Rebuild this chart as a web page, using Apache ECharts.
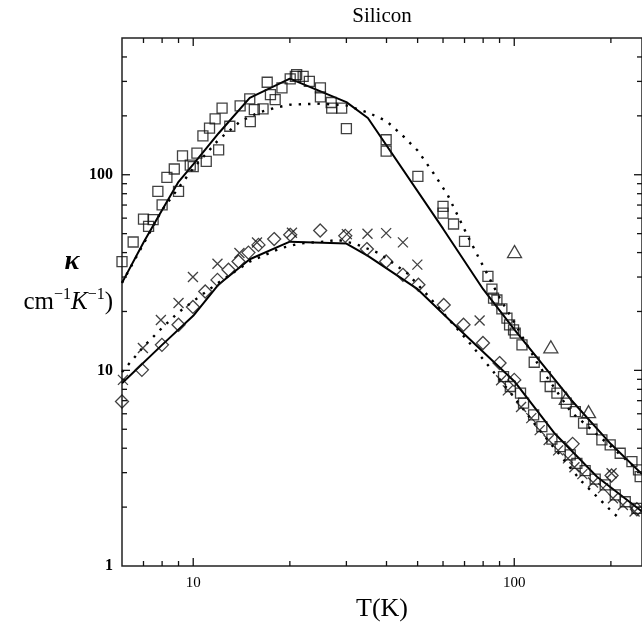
<!DOCTYPE html>
<html>
<head>
<meta charset="utf-8">
<title>Silicon</title>
<script src="https://cdn.jsdelivr.net/npm/echarts@6/dist/echarts.min.js"></script>
<style>
  html, body { margin: 0; padding: 0; background: #fff; }
  #chart { width: 642px; height: 624px; }
</style>
</head>
<body>
<div id="chart"></div>
<script>
// thermal conductivity of silicon: [T (K), kappa]
const upperSquares = [
  [6.0, 36], [6.5, 45.3], [7.0, 59.3], [7.26, 54.4], [7.5, 58.9], [8.0, 70.2], [7.76, 82.2],
  [9.0, 82.2], [8.28, 96.9], [8.73, 107], [9.26, 125], [10.27, 129], [9.79, 112], [10.0, 110],
  [10.98, 117], [10.72, 158], [11.24, 173], [12.0, 134], [11.7, 193], [12.3, 219], [13.0, 177],
  [14.0, 225], [15.0, 244], [15.06, 187], [15.5, 215], [16.5, 217], [17.0, 297], [17.4, 257],
  [18.0, 242], [18.9, 278], [20.05, 309], [20.8, 318], [21.0, 325], [22.0, 318], [23.0, 300],
  [24.9, 278], [24.9, 250], [26.9, 234], [27.0, 219], [29.0, 219], [30.0, 172], [39.9, 151],
  [39.9, 132], [50.1, 98], [60, 68.9], [60, 63.7], [64.7, 56], [70, 45.6], [82.8, 30.2],
  [85.2, 26], [86.2, 23.4], [88.3, 22.9], [91.5, 20.6], [94.9, 18.5], [96.7, 17.1], [99.5, 16.1],
  [100.7, 15.5], [105.7, 13.5], [115.4, 11.0], [124.9, 9.3], [129.4, 8.27], [135.8, 7.65],
  [145.2, 6.8], [155, 6.15], [164.4, 5.37], [174.6, 5.0], [187.5, 4.41], [199, 4.16],
  [213.8, 3.77], [232.6, 3.42], [243.8, 3.1], [246.7, 2.86]
];
const lowerSquares = [
  [92.6, 9.3], [97.2, 8.27], [104.6, 7.65], [106.9, 6.8], [114.9, 5.92], [121.9, 5.16],
  [131, 4.45], [139, 4.08], [149.4, 3.7], [156.7, 3.35], [166.3, 3.07], [178.7, 2.78],
  [192, 2.6], [206.4, 2.31], [221.7, 2.13], [241, 1.97]
];
const diamonds = [
  [6.0, 6.93], [6.92, 10.06], [7.99, 13.5], [9.0, 17.1], [9.98, 21.1], [10.9, 25.3], [11.9, 29],
  [12.88, 32.7], [13.84, 36], [14.86, 40], [15.97, 43.8], [17.87, 46.9], [20.05, 49.3],
  [24.86, 51.9], [29.76, 48.7], [34.75, 41.7], [39.9, 36], [45, 30.8], [50.3, 27.4], [60.3, 21.6],
  [69.5, 17.1], [79.9, 13.8], [90, 10.9], [100, 8.94], [152, 4.21], [201, 2.9], [241, 1.95]
];
const crosses = [
  [6.04, 8.94], [6.97, 13.0], [7.93, 18.1], [9.0, 22.1], [9.98, 30], [11.9, 35.1], [13.93, 39.8],
  [15.8, 45], [20.3, 50.5], [30.1, 49.7], [34.9, 49.9], [39.9, 50.3], [45, 45.1], [49.9, 34.7],
  [78, 18], [91, 8.9], [95.5, 7.9], [105, 6.5], [113, 5.7], [120, 4.95], [128, 4.41], [137, 3.9],
  [147, 3.55], [154, 3.2], [163, 2.95], [176, 2.67], [189, 2.5], [201, 2.98], [203, 2.22],
  [218, 2.05], [237, 1.9]
];
const triangles = [[100.2, 40.5], [130, 13.2], [145.2, 7.2], [170.4, 6.15]];

const upperSolid = [
  [6, 28], [7, 45], [8, 66], [9, 92], [10, 113], [12, 163], [15, 247], [20, 310], [30, 235],
  [35, 195], [60, 53], [80, 26], [100, 16.2], [150, 7.1], [200, 4.2], [250, 2.95]
];
const upperDotted = [
  [6, 28], [8, 66], [10, 108], [12, 151], [14, 187], [16, 208], [18, 220], [20, 228], [25, 231],
  [30, 226], [35, 208], [40, 188], [45, 158], [50, 133], [56, 102], [62, 79], [71, 50], [77, 38.5],
  [90, 23.5], [100, 17.6], [111, 13], [118, 10.9], [150, 6.15], [200, 4.08], [236, 3.22]
];
const lowerSolid = [
  [6, 8.6], [8, 13.5], [10, 19], [12, 27.5], [15, 37], [20, 45.5], [30, 44.5], [35, 38.5],
  [50, 26], [68, 16], [100, 8.8], [133, 4.8], [181, 2.86], [250, 1.9]
];
const lowerDotted = [
  [6, 9.8], [7, 13.2], [8, 16.5], [9, 19.8], [10.3, 23.4], [12.1, 28.4], [15, 36], [18.7, 42.1],
  [21.6, 44.6], [26.1, 45.6], [28.1, 46.5], [31.9, 44.4], [37.8, 39.8], [46.4, 31.4], [54.2, 23.8],
  [71.3, 14.3], [85.2, 10.06], [99.5, 7.35], [117.5, 5.16], [160.6, 2.75], [204, 1.86], [215, 1.72]
];

// axis range and tick marks
const X_MIN = 6, X_MAX = 250, Y_MIN = 1, Y_MAX = 500;
const xTicks = [7, 8, 9, 10, 20, 30, 40, 50, 60, 70, 80, 90, 100, 200];
const yTicks = [2, 3, 4, 5, 6, 7, 8, 9, 10, 20, 30, 40, 50, 60, 70, 80, 90, 100, 200, 300, 400];
const majorTicks = [10, 100];

const ink = '#111';
const serif = '"Liberation Serif", "DejaVu Serif", serif';

function decadeLabel(v) {
  const e = Math.log10(v);
  return Math.abs(e - Math.round(e)) < 1e-6 ? String(Math.pow(10, Math.round(e))) : '';
}

function tickLine(x1, y1, x2, y2) {
  return { type: 'line', shape: { x1: x1, y1: y1, x2: x2, y2: y2 }, style: { stroke: ink, lineWidth: 1.3 } };
}

function renderXTick(params, api) {
  const v = api.value(0);
  const len = api.value(2) ? 8 : 5;
  const b = api.coord([v, Y_MIN]);
  const t = api.coord([v, Y_MAX]);
  return { type: 'group', children: [
    tickLine(b[0], b[1], b[0], b[1] - len),
    tickLine(t[0], t[1], t[0], t[1] + len)
  ]};
}

function renderYTick(params, api) {
  const v = api.value(1);
  const len = api.value(2) ? 8 : 5;
  const l = api.coord([X_MIN, v]);
  const r = api.coord([X_MAX, v]);
  return { type: 'group', children: [
    tickLine(l[0], l[1], l[0] + len, l[1]),
    tickLine(r[0], r[1], r[0] - len, r[1])
  ]};
}

function markers(data, symbol, size) {
  return {
    type: 'scatter', data: data, symbol: symbol, symbolSize: size, z: 3,
    itemStyle: { color: 'rgba(0,0,0,0)', borderColor: ink, borderWidth: 1.3 }
  };
}

function curve(data, dotted) {
  return {
    type: 'line', data: data, showSymbol: false, z: 2,
    lineStyle: dotted
      ? { color: '#000', width: 2.4, type: [2.4, 7], cap: 'butt' }
      : { color: '#000', width: 2 }
  };
}

const chart = echarts.init(document.getElementById('chart'), null, { renderer: 'canvas' });

chart.setOption({
  backgroundColor: '#fff',
  animation: false,
  grid: {
    left: 122, right: 0, top: 38, bottom: 58,
    show: true, borderColor: '#222', borderWidth: 1.5,
    outerBoundsMode: 'none'
  },
  xAxis: {
    type: 'log', logBase: 10, min: X_MIN, max: X_MAX,
    name: 'T(K)', nameLocation: 'middle', nameGap: 26,
    nameTextStyle: { fontFamily: serif, fontSize: 26, color: '#000' },
    axisLine: { show: false }, axisTick: { show: false }, splitLine: { show: false },
    axisLabel: { formatter: decadeLabel, margin: 10, fontFamily: serif, fontSize: 15, color: '#000' }
  },
  yAxis: {
    type: 'log', logBase: 10, min: Y_MIN, max: Y_MAX,
    axisLine: { show: false }, axisTick: { show: false }, splitLine: { show: false },
    axisLabel: { formatter: decadeLabel, margin: 9, fontFamily: serif, fontSize: 16, fontWeight: 'bold', color: '#000' }
  },
  graphic: [
    { type: 'text', x: 382, y: 16,
      style: { text: 'Silicon', font: '21px ' + serif, fill: '#000', align: 'center', verticalAlign: 'middle' } },
    { type: 'text', x: 72, y: 262,
      style: { text: 'κ', font: 'italic bold 28px ' + serif, fill: '#000', align: 'center', verticalAlign: 'middle' } },
    { type: 'text', x: 113, y: 302,
      style: {
        text: '{a|cm}{s|−1}{k|K}{s|−1}{a|)}', align: 'right', verticalAlign: 'middle', fill: '#000',
        rich: {
          a: { fontFamily: serif, fontSize: 25, lineHeight: 30 },
          k: { fontFamily: serif, fontSize: 25, fontStyle: 'italic', lineHeight: 30 },
          s: { fontFamily: serif, fontSize: 16, lineHeight: 30, verticalAlign: 'top' }
        }
      } }
  ],
  series: [
    curve(upperSolid, false),
    curve(upperDotted, true),
    curve(lowerSolid, false),
    curve(lowerDotted, true),
    markers(upperSquares, 'rect', 10),
    markers(lowerSquares, 'rect', 10),
    markers(diamonds, 'diamond', 13),
    markers(crosses, 'path://M0,0L10,10M10,0L0,10', 10),
    markers(triangles, 'triangle', [14, 12]),
    {
      type: 'custom', renderItem: renderXTick, silent: true, z: 4,
      data: xTicks.map(v => [v, Y_MIN, majorTicks.indexOf(v) >= 0 ? 1 : 0])
    },
    {
      type: 'custom', renderItem: renderYTick, silent: true, z: 4,
      data: yTicks.map(v => [X_MIN, v, majorTicks.indexOf(v) >= 0 ? 1 : 0])
    }
  ]
});
</script>
</body>
</html>
